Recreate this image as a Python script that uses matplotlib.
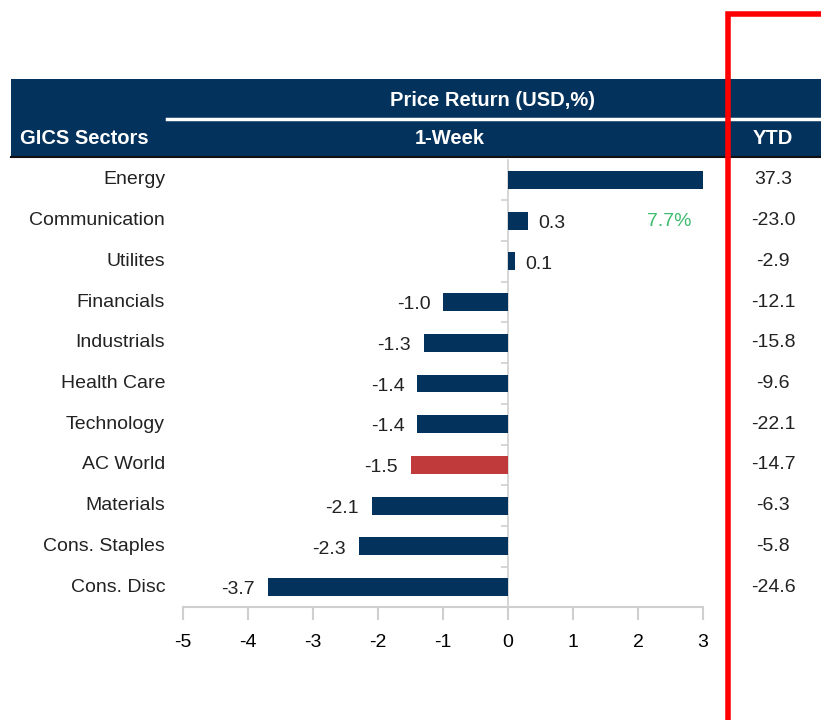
import matplotlib
matplotlib.use("Agg")
import matplotlib.pyplot as plt
from matplotlib.patches import Rectangle
from matplotlib.transforms import blended_transform_factory

plt.rcParams['font.family'] = ['Liberation Sans Narrow', 'Liberation Sans', 'DejaVu Sans']

# ---- data ----
sectors = ["Energy", "Communication", "Utilites", "Financials", "Industrials",
           "Health Care", "Technology", "AC World", "Materials", "Cons. Staples", "Cons. Disc"]
week_ret = [7.7, 0.3, 0.1, -1.0, -1.3, -1.4, -1.4, -1.5, -2.1, -2.3, -3.7]
ytd_ret = [37.3, -23.0, -2.9, -12.1, -15.8, -9.6, -22.1, -14.7, -6.3, -5.8, -24.6]
x_ticks = [-5, -4, -3, -2, -1, 0, 1, 2, 3]
highlight = "AC World"

NAVY = "#03325c"
RED = "#c0393b"
GREEN = "#3dbb6e"
GRAY = "#cfcfcf"

W, H = 821, 720
fig = plt.figure(figsize=(W / 100, H / 100), dpi=100)

def fx(px):
    return px / W

def fy(py):
    return 1 - py / H

# main bar axes: x -5..3 maps to px 183..703, rows from 159.6 to 607.4
ax = fig.add_axes([fx(183), fy(607.4), fx(703) - fx(183), (607.4 - 159.6) / H])
rows = list(range(len(sectors)))
colors = [RED if s == highlight else NAVY for s in sectors]
ax.barh(rows, week_ret, height=0.44, color=colors, zorder=3)
ax.set_xlim(x_ticks[0], x_ticks[-1])
ax.set_ylim(len(sectors) - 0.5, -0.5)

for sp in ["top", "right"]:
    ax.spines[sp].set_visible(False)
ax.spines["bottom"].set_color(GRAY)
ax.spines["bottom"].set_linewidth(1.5)
ax.spines["left"].set_position(("data", 0))
ax.spines["left"].set_color(GRAY)
ax.spines["left"].set_linewidth(1.2)
ax.set_xticks(x_ticks)
ax.set_xticklabels([str(t) for t in x_ticks], fontsize=14)
ax.tick_params(axis="x", length=9, width=1.5, color=GRAY, pad=10)
ax.set_yticks([])
ax.set_yticks([r + 0.5 for r in rows[:-1]], minor=True)
ax.tick_params(axis="y", which="minor", length=5, width=1.2, color=GRAY, direction="out")
ax.set_yticklabels([], minor=True)

# value labels next to bars
for r, v in zip(rows, week_ret):
    if v > x_ticks[-1]:
        ax.annotate(f"{v:.1f}%", xy=(x_ticks[-1], r), xytext=(-8, -30),
                    textcoords="offset points", ha="right", va="center",
                    fontsize=14, color=GREEN)
        continue
    if v >= 0:
        ax.annotate(f"{v:.1f}", xy=(v, r), xytext=(8, -2), textcoords="offset points",
                    ha="left", va="center", fontsize=14, color="#222222")
    else:
        ax.annotate(f"{v:.1f}", xy=(v, r), xytext=(-9, -2), textcoords="offset points",
                    ha="right", va="center", fontsize=14, color="#222222")

# category names and YTD column
tr = blended_transform_factory(fig.transFigure, ax.transData)
for r, name, y in zip(rows, sectors, ytd_ret):
    ax.text(fx(165), r, name, transform=tr, ha="right", va="center", fontsize=14,
            color="#222222", clip_on=False)
    ax.text(fx(773), r, f"{y:.1f}", transform=tr, ha="center", va="center", fontsize=14,
            color="#222222", clip_on=False)

# header band
fig.patches.append(Rectangle((fx(11), fy(156)), 1 - fx(11), (156 - 79) / H,
                             transform=fig.transFigure, facecolor=NAVY, edgecolor="none"))
fig.lines.append(plt.Line2D([fx(167), 1], [fy(119), fy(119)], transform=fig.transFigure,
                            color="white", lw=2.5))
fig.lines.append(plt.Line2D([fx(11), 1], [fy(157), fy(157)], transform=fig.transFigure,
                            color="#111111", lw=1.5))
fig.text(fx(493), fy(101), "Price Return (USD,%)", ha="center", va="center",
         fontsize=14.5, fontweight="bold", color="white")
fig.text(fx(20), fy(138), "GICS Sectors", ha="left", va="center",
         fontsize=14.5, fontweight="bold", color="white")
fig.text(fx(450), fy(138), "1-Week", ha="center", va="center",
         fontsize=14.5, fontweight="bold", color="white")
fig.text(fx(773), fy(138), "YTD", ha="center", va="center",
         fontsize=14.5, fontweight="bold", color="white")

# red highlight box around YTD column
fig.patches.append(Rectangle((fx(728), fy(740)), fx(140), (740 - 14) / H,
                             transform=fig.transFigure, facecolor="none",
                             edgecolor="#ff0000", lw=4, zorder=10))

fig.savefig("out.png", dpi=100)
